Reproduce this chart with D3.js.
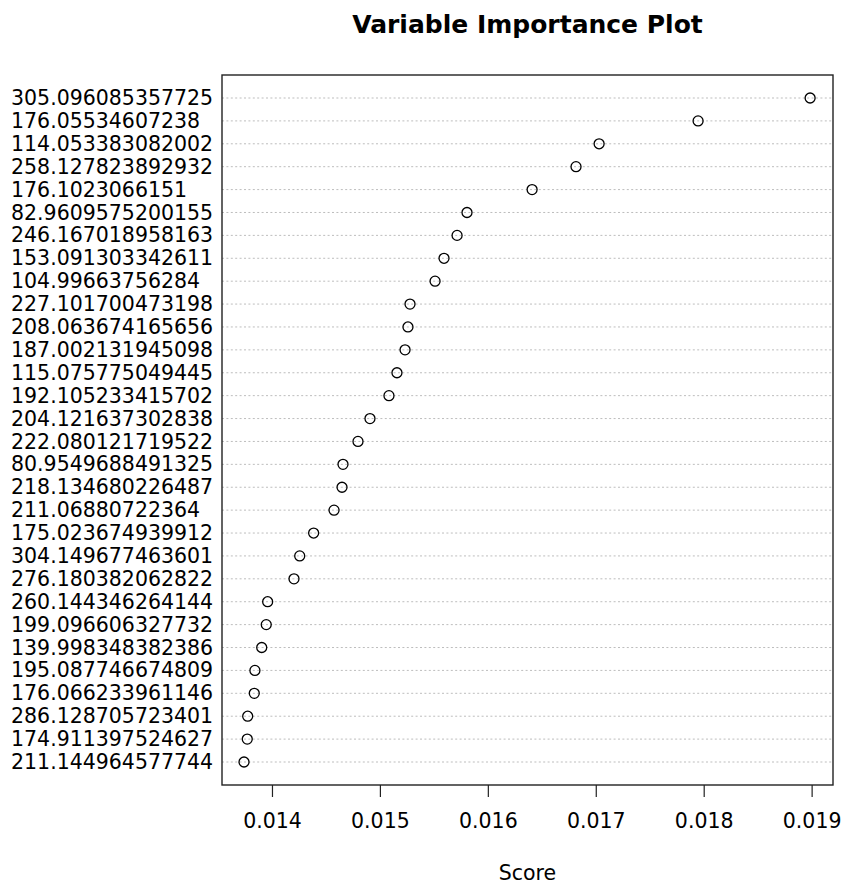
<!DOCTYPE html>
<html>
<head>
<meta charset="utf-8">
<script src="https://cdn.jsdelivr.net/npm/d3@7"></script>
<style>
  body { margin: 0; background: #fff; }
  svg text { font-family: "DejaVu Sans", sans-serif; fill: #000; }
</style>
</head>
<body>
<div id="chart"></div>
<script>
// variables, top to bottom
var variables = [
  '305.096085357725', '176.05534607238', '114.053383082002', '258.127823892932',
  '176.1023066151', '82.9609575200155', '246.167018958163', '153.091303342611',
  '104.99663756284', '227.101700473198', '208.063674165656', '187.002131945098',
  '115.075775049445', '192.105233415702', '204.121637302838', '222.080121719522',
  '80.9549688491325', '218.134680226487', '211.06880722364', '175.023674939912',
  '304.149677463601', '276.180382062822', '260.144346264144', '199.096606327732',
  '139.998348382386', '195.087746674809', '176.066233961146', '286.128705723401',
  '174.911397524627', '211.144964577744'
];
var scores = [
  0.018986, 0.017948, 0.017031, 0.016817, 0.016410, 0.015807, 0.015715, 0.015594,
  0.015511, 0.015279, 0.015260, 0.015233, 0.015158, 0.015084, 0.014908, 0.014797,
  0.014658, 0.014649, 0.014575, 0.014386, 0.014257, 0.014204, 0.013960, 0.013947,
  0.013905, 0.013842, 0.013836, 0.013775, 0.013771, 0.013741
];
var xTicks = [0.014, 0.015, 0.016, 0.017, 0.018, 0.019];

var width = 841, height = 884;
var margin = {top: 75, right: 8, bottom: 99, left: 222};
var w = width - margin.left - margin.right;
var h = height - margin.top - margin.bottom;

var svg = d3.select('#chart').append('svg')
  .attr('width', width)
  .attr('height', height);

var g = svg.append('g')
  .attr('transform', 'translate(' + margin.left + ',' + margin.top + ')');

var x = d3.scaleLinear()
  .domain([0.013537, 0.019198])
  .range([0, w]);

var y = d3.scalePoint()
  .domain(variables)
  .range([23, h - 23]);

// dotted guide lines
g.selectAll('line.guide')
  .data(variables)
  .enter().append('line')
  .attr('class', 'guide')
  .attr('x1', 0)
  .attr('x2', w)
  .attr('y1', function(d){ return y(d); })
  .attr('y2', function(d){ return y(d); })
  .attr('stroke', '#bdbdbd')
  .attr('stroke-width', 1)
  .style('stroke-dasharray', '2,2.4');

// points
g.selectAll('circle.pt')
  .data(scores)
  .enter().append('circle')
  .attr('class', 'pt')
  .attr('cx', function(d){ return x(d); })
  .attr('cy', function(d, i){ return y(variables[i]); })
  .attr('r', 5)
  .attr('fill', 'none')
  .attr('stroke', '#000')
  .attr('stroke-width', 1.3);

// box
g.append('rect')
  .attr('x', 0)
  .attr('y', 0)
  .attr('width', w)
  .attr('height', h)
  .attr('fill', 'none')
  .attr('stroke', '#222')
  .attr('stroke-width', 1.4);

// y labels
var yAxis = d3.axisLeft(y).tickSize(0).tickPadding(10);
var yG = g.append('g').call(yAxis);
yG.select('.domain').remove();
yG.selectAll('text')
  .style('font-size', '20.5px')
  .attr('text-anchor', 'start')
  .attr('x', 11 - margin.left);

// x axis
var xAxis = d3.axisBottom(x).tickValues(xTicks).tickSize(12).tickPadding(16)
  .tickFormat(d3.format('.3f'));
var xG = g.append('g')
  .attr('transform', 'translate(0,' + h + ')')
  .call(xAxis);
xG.select('.domain').remove();
xG.selectAll('line').attr('stroke', '#222').attr('stroke-width', 1.2);
xG.selectAll('text').style('font-size', '20.5px');

// title and axis title
svg.append('text')
  .attr('x', margin.left + w / 2)
  .attr('y', 33)
  .attr('text-anchor', 'middle')
  .style('font-size', '25px')
  .style('font-weight', 'bold')
  .text('Variable Importance Plot');

svg.append('text')
  .attr('x', margin.left + w / 2)
  .attr('y', 880)
  .attr('text-anchor', 'middle')
  .style('font-size', '20.5px')
  .text('Score');
</script>
</body>
</html>
